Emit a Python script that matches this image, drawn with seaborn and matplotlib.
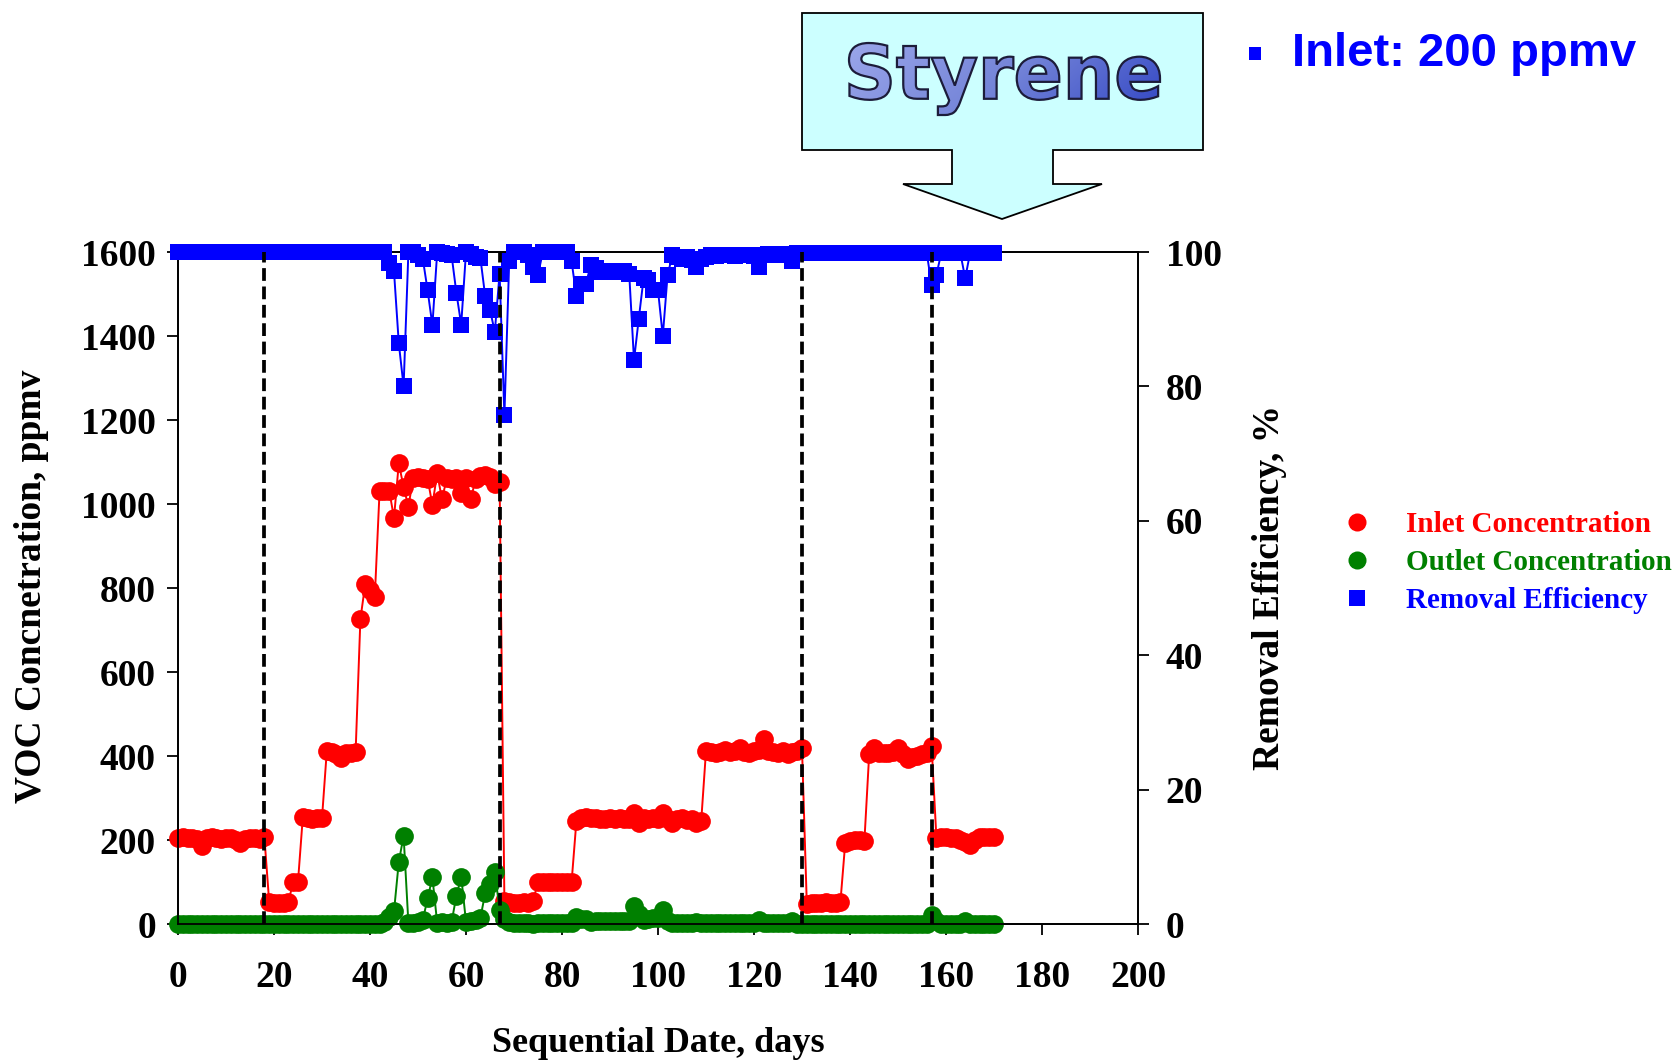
import numpy as np
import pandas as pd
import matplotlib
matplotlib.use("Agg")
import matplotlib.pyplot as plt
import seaborn as sns
from matplotlib.lines import Line2D
from matplotlib.patches import Polygon, PathPatch, Rectangle
from matplotlib.textpath import TextPath
from matplotlib.font_manager import FontProperties
from matplotlib.transforms import Affine2D
from matplotlib.colors import LinearSegmentedColormap

# ---------------- data ----------------
days = list(range(171))

inlet_ppmv = [
    205, 206, 204, 205, 203, 186, 205, 207, 204, 203, 205, 204, 200, 192, 202, 204, 205, 203, 206,
    52, 50, 51, 50, 53,
    100, 101,
    254, 252, 251, 253, 252,
    412, 410, 405, 395, 406, 408, 409,
    726, 809, 795, 779,
    1032, 1030, 1032, 967, 1097, 1040, 994,
    1062, 1065, 1063, 1060, 998, 1073, 1011, 1062, 1060, 1063, 1026, 1062, 1011, 1060, 1066, 1068,
    1065, 1048, 1053,
    55, 52, 51, 50, 52, 50, 55,
    101, 100, 101, 100, 100, 101, 100, 100,
    245, 252, 254, 253, 252, 250, 251, 252, 250, 253, 251, 250, 265, 240, 252, 251, 252, 250, 265,
    250, 240, 250, 252, 248, 251, 240, 245,
    412, 410, 408, 410, 415, 410, 412, 420, 410, 408, 412, 415, 440, 412, 410, 408, 412, 405, 410,
    412, 418,
    48, 50, 51, 50, 52, 50, 49, 52,
    192, 198, 200, 199, 198,
    405, 420, 408, 407, 406, 410, 420, 405, 392, 398, 400, 405, 408, 424,
    205, 206, 206, 205, 204, 200, 195, 188, 200, 206, 207, 206, 207,
]

outlet_ppmv = [
    0, 0, 0, 0, 0, 0, 0, 0, 0, 0, 0, 0, 0, 0, 0, 0, 0, 0, 0, 0, 0, 0,
    0, 0, 0, 0, 0, 0, 0, 0, 0, 0, 0, 0, 0, 0, 0, 0, 0, 0, 0, 0, 0,
    5, 17, 30, 148, 210, 2, 3, 5, 10, 61, 111, 2, 5, 3, 5, 67, 113, 5, 8, 10, 15, 73, 95, 125, 33,
    13, 5,
    2, 2, 2, 2, 1, 3, 2, 2, 2, 2, 2, 2, 2, 16, 12, 12, 5, 6, 8, 7, 8, 7, 8, 7, 8, 43, 24, 10, 11,
    14, 14, 33, 8, 2, 2, 3, 2, 3, 5, 2, 3, 2, 2, 2, 2, 2, 2, 2, 2, 2, 2, 9, 2, 2, 2, 2, 2, 2, 6,
    1, 1, 1, 1, 1, 1, 1, 1, 1, 1, 1, 1, 1, 1, 1, 1, 1, 1, 1, 1, 1, 1, 1, 1, 1, 1, 1, 1, 21, 7,
    1, 1, 1, 1, 1, 8, 1, 1, 1, 1, 1, 1,
]

removal_pct = [
    100, 100, 100, 100, 100, 100, 100, 100, 100, 100, 100, 100, 100, 100, 100, 100, 100, 100, 100,
    100, 100, 100, 100, 100, 100, 100, 100, 100, 100, 100, 100, 100, 100, 100, 100, 100, 100, 100,
    100, 100, 100, 100, 100, 100,
    98.3, 97.1, 86.4, 80.0, 100, 100, 99.5, 99.0, 94.3, 89.1, 100, 99.8, 99.7, 99.5, 93.9, 89.2,
    100, 99.7, 99.3, 99.1, 93.4, 91.4, 88.1, 96.8, 75.7, 98.6,
    100, 100, 100, 99.5, 97.8, 96.6, 100, 100, 100, 100, 100, 100, 98.6, 93.4, 95.3, 95.3, 98.1,
    97.6, 97.0, 97.2, 97.0, 97.1, 97.0, 97.1, 96.8, 83.9, 90.1, 96.1, 95.8, 94.3, 94.3, 87.5, 96.6,
    99.5, 99.3, 99.0, 99.2, 98.8, 97.8, 99.0, 99.2, 99.5, 99.4, 99.6, 99.5, 99.5, 99.4, 99.5, 99.6,
    99.5, 99.4, 97.8, 99.6, 99.7, 99.6, 99.6, 99.7, 99.6, 98.6,
    99.8, 99.8, 99.8, 99.8, 99.8, 99.8, 99.8, 99.8, 99.8, 99.8, 99.8, 99.8, 99.8, 99.8, 99.8, 99.8,
    99.8, 99.8, 99.8, 99.8, 99.8, 99.8, 99.8, 99.8, 99.8, 99.8, 99.8, 99.8,
    95.1, 96.6, 99.8, 99.8, 99.8, 99.8, 99.8, 96.1, 99.8, 99.8, 99.8, 99.8, 99.8, 99.8,
]

phase_changes = [18, 67, 130, 157]
x_ticks = [0, 20, 40, 60, 80, 100, 120, 140, 160, 180, 200]
left_ticks = [0, 200, 400, 600, 800, 1000, 1200, 1400, 1600]
right_ticks = [0, 20, 40, 60, 80, 100]
series_names = ["Inlet Concentration", "Outlet Concentration", "Removal Efficiency"]
series_colors = ["#ff0000", "#008000", "#0000ff"]

df = pd.DataFrame({"day": days, "inlet": inlet_ppmv, "outlet": outlet_ppmv, "eff": removal_pct})

# ---------------- style ----------------
sns.set_theme(style="ticks")
plt.rcParams["font.family"] = ["Liberation Serif", "DejaVu Serif"]
plt.rcParams["font.weight"] = "bold"
plt.rcParams["axes.labelweight"] = "bold"

W, H = 1681, 1061
fig = plt.figure(figsize=(W / 100, H / 100), dpi=100)
fig.patch.set_facecolor("white")

x0, x1, y_top, y_bot = 178, 1138, 252, 924
ax = fig.add_axes([x0 / W, 1 - y_bot / H, (x1 - x0) / W, (y_bot - y_top) / H])
ax.set_facecolor("white")

line_kw = dict(linewidth=1.4, markeredgewidth=0, clip_on=False, estimator=None)
sns.lineplot(data=df, x="day", y="inlet", ax=ax, color=series_colors[0], marker="o",
             markersize=13.5, zorder=3, **line_kw)
sns.lineplot(data=df, x="day", y="outlet", ax=ax, color=series_colors[1], marker="o",
             markersize=13.5, zorder=4, **line_kw)
ax.set_xlim(0, 200)
ax.set_ylim(0, 1600)
ax.set_xticks(x_ticks)
ax.set_yticks(left_ticks)

ax2 = ax.twinx()
sns.lineplot(data=df, x="day", y="eff", ax=ax2, color=series_colors[2], marker="s",
             markersize=11.5, zorder=3, **line_kw)
ax2.set_ylim(0, 100)
ax2.set_yticks(right_ticks)
ax2.set_xlim(0, 200)

for d in phase_changes:
    ax2.axvline(d, color="black", linestyle=(0, (3.4, 1.5)), linewidth=2.7, zorder=6)

for a in (ax, ax2):
    for s in a.spines.values():
        s.set_color("black")
        s.set_linewidth(1.3)
        s.set_visible(True)

tick_font = 27
ax.tick_params(axis="x", direction="out", length=8, width=1.3, pad=18,
               labelsize=tick_font, colors="black", top=False)
ax.tick_params(axis="y", direction="out", length=8, width=1.3, pad=8,
               labelsize=tick_font, colors="black")
ax2.tick_params(axis="y", direction="out", length=8, width=1.3, pad=12,
                labelsize=tick_font, colors="black")
for lab in ax.get_xticklabels() + ax.get_yticklabels() + ax2.get_yticklabels():
    lab.set_fontweight("bold")

ax.set_xlabel("Sequential Date, days", fontsize=26, fontweight="bold", color="black")
ax.set_ylabel("VOC Concnetration, ppmv", fontsize=27, fontweight="bold", color="black")
ax2.set_ylabel("Removal Efficiency, %", fontsize=27, fontweight="bold", color="black")
ax.xaxis.set_label_coords((658 - x0) / (x1 - x0), (y_bot - 1043) / (y_bot - y_top))
ax.xaxis.label.set_va("center")
ax.yaxis.set_label_coords((32 - x0) / (x1 - x0), (y_bot - 586) / (y_bot - y_top))
ax.yaxis.label.set_va("center")
ax2.yaxis.set_label_coords((1270 - x0) / (x1 - x0), (y_bot - 587) / (y_bot - y_top))
ax2.yaxis.label.set_va("center")

# legend
handles = [
    Line2D([], [], linestyle="none", marker="o", markersize=13, color=series_colors[0],
           markeredgewidth=0),
    Line2D([], [], linestyle="none", marker="o", markersize=13, color=series_colors[1],
           markeredgewidth=0),
    Line2D([], [], linestyle="none", marker="s", markersize=11, color=series_colors[2],
           markeredgewidth=0),
]
leg = fig.legend(handles, series_names, loc="upper left",
                 bbox_to_anchor=(1342 / W, 1 - 511 / H), frameon=False,
                 prop=FontProperties(family="Liberation Serif", weight="bold", size=21),
                 labelcolor=series_colors, handlelength=1.0, handletextpad=1.2,
                 labelspacing=0.38, borderpad=0, borderaxespad=0)

# ---------------- callout with title ----------------
axo = fig.add_axes([0, 0, 1, 1], zorder=10)
axo.set_xlim(0, W)
axo.set_ylim(H, 0)
axo.axis("off")
axo.patch.set_visible(False)

callout = Polygon([(802, 13), (1203, 13), (1203, 150), (1053, 150), (1053, 184), (1102, 184),
                   (1002, 219), (903, 184), (952, 184), (952, 150), (802, 150)],
                  closed=True, facecolor="#ccffff", edgecolor="black", linewidth=1.3)
axo.add_patch(callout)

tp = TextPath((0, 0), "Styrene", size=100,
              prop=FontProperties(family="DejaVu Sans", weight="bold"))
ext = tp.get_extents()
tx0, tx1, ty_top, ty_bot = 849, 1160, 43, 115
sx = (tx1 - tx0) / ext.width
sy = (ty_bot - ty_top) / ext.height
tr = Affine2D().translate(-ext.x0, -ext.y0).scale(sx, -sy).translate(tx0, ty_bot) + axo.transData
clip_patch = PathPatch(tp, transform=tr, facecolor="none", edgecolor="none")
axo.add_patch(clip_patch)
grad_cmap = LinearSegmentedColormap.from_list("styrene", ["#9aa6ea", "#7484d8", "#3347c4"])
gx = np.linspace(0, 1, 256)
gy = np.linspace(0, 1, 64)
grad = 0.8 * gx[None, :] + 0.2 * gy[:, None]
im = axo.imshow(grad, cmap=grad_cmap, extent=(tx0, tx1, ty_bot, ty_top), aspect="auto",
                interpolation="bilinear", zorder=11)
im.set_clip_path(clip_patch)
outline = PathPatch(tp, transform=tr, facecolor="none", edgecolor="#1c1c3a", linewidth=1.6,
                    zorder=12)
axo.add_patch(outline)

axo.add_patch(Rectangle((1249, 47), 12, 13, facecolor="#0000ff", edgecolor="none"))
axo.text(1292, 54, "Inlet: 200 ppmv", color="#0000ff", fontsize=34, fontweight="bold",
         family=["Liberation Sans", "DejaVu Sans"], ha="left", va="center")
axo.set_xlim(0, W)
axo.set_ylim(H, 0)

fig.savefig("out.png", dpi=100, facecolor="white")
